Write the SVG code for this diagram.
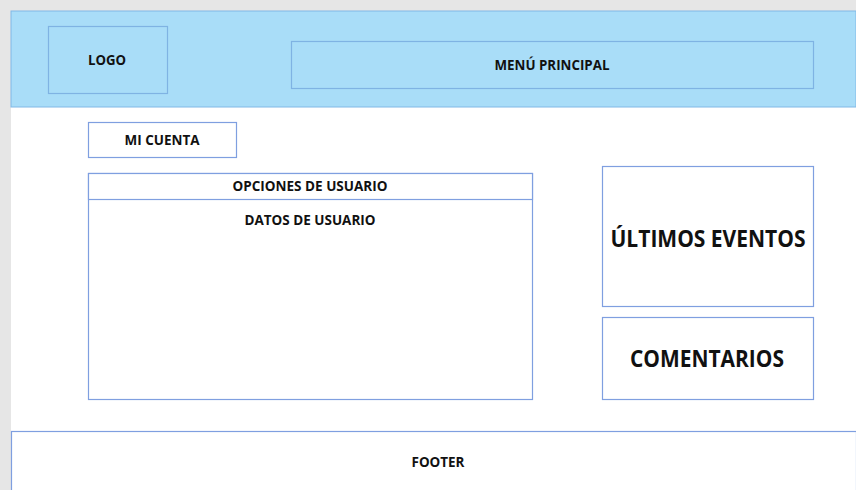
<svg xmlns="http://www.w3.org/2000/svg" width="856" height="490" viewBox="0 0 856 490">
<style>
.t{font-family:"Open Sans","Noto Sans","Liberation Sans",sans-serif;font-weight:bold;fill:#111;text-anchor:middle}
.hb{fill:#a9ddf8;stroke:#7fb3e3;stroke-width:1.2}
.wb{fill:#fff;stroke:#7f9fe0;stroke-width:1.2}
</style>
<rect x="0" y="0" width="856" height="490" fill="#e6e6e6"/>
<rect x="11" y="107" width="845" height="383" fill="#fff"/>
<g id="header">
<rect x="11" y="11" width="845" height="96" fill="#a9ddf8" stroke="#80b8e6" stroke-width="1"/>
</g>
<g id="logo">
<rect class="hb" x="48.5" y="26.5" width="119" height="67"/>
<text class="t" x="107" y="65" font-size="14" textLength="38" lengthAdjust="spacingAndGlyphs">LOGO</text>
</g>
<g id="menu">
<rect class="hb" x="291.5" y="41.5" width="522" height="47"/>
<text class="t" x="552" y="70" font-size="14" textLength="115" lengthAdjust="spacingAndGlyphs">MENÚ PRINCIPAL</text>
</g>
<g id="micuenta">
<rect class="wb" x="88.5" y="122.5" width="148" height="35"/>
<text class="t" x="162" y="145" font-size="14" textLength="75" lengthAdjust="spacingAndGlyphs">MI CUENTA</text>
</g>
<g id="datos">
<rect class="wb" x="88.5" y="173.5" width="444" height="226"/>
<text class="t" x="310" y="225" font-size="14" textLength="131" lengthAdjust="spacingAndGlyphs">DATOS DE USUARIO</text>
</g>
<g id="opciones">
<rect class="wb" x="88.5" y="173.5" width="444" height="26"/>
<text class="t" x="310" y="191" font-size="14" textLength="155" lengthAdjust="spacingAndGlyphs">OPCIONES DE USUARIO</text>
</g>
<g id="eventos">
<rect class="wb" x="602.5" y="166.5" width="211" height="140"/>
<text class="t" x="708" y="247" font-size="24" textLength="195" lengthAdjust="spacingAndGlyphs">ÚLTIMOS EVENTOS</text>
</g>
<g id="comentarios">
<rect class="wb" x="602.5" y="317.5" width="211" height="82"/>
<text class="t" x="707" y="367" font-size="24" textLength="154" lengthAdjust="spacingAndGlyphs">COMENTARIOS</text>
</g>
<g id="footer">
<rect class="wb" x="11.5" y="431.5" width="845" height="60"/>
<text class="t" x="438" y="467" font-size="14" textLength="53" lengthAdjust="spacingAndGlyphs">FOOTER</text>
</g>
<g id="connectors"></g>
</svg>
